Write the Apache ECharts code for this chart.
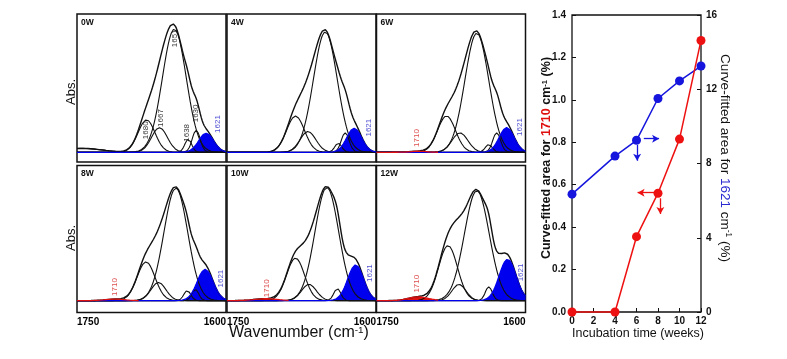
<!DOCTYPE html>
<html><head><meta charset="utf-8">
<script src="https://cdn.jsdelivr.net/npm/echarts@6/dist/echarts.min.js"></script>
<style>html,body{margin:0;padding:0;background:#fff}#c{width:787px;height:359px}</style>
</head><body><div id="c"></div>
<script>
// ---------------- DATA ----------------
const panelNames = ['0W', '4W', '6W', '8W', '10W', '12W'];
// Fitted amide-I component bands: [centre (cm-1), height (normalised), width sigma (cm-1)]
const blackBands = [
  [[1745, 0.03, 20], [1680, 0.25, 8.5], [1667, 0.19, 8], [1652, 0.95, 12], [1638, 0.10, 3.5], [1630, 0.17, 4]],
  [[1681, 0.28, 9], [1668.5, 0.16, 8], [1651, 0.93, 12], [1638, 0.07, 3.5], [1631, 0.15, 4]],
  [[1679.5, 0.28, 9], [1666, 0.15, 8], [1649, 0.92, 12], [1637, 0.06, 3.5], [1629, 0.15, 4]],
  [[1680.5, 0.31, 9], [1668, 0.145, 7.5], [1650.5, 0.90, 12], [1639, 0.08, 3.5], [1631, 0.09, 3.5]],
  [[1681, 0.34, 9], [1667.5, 0.13, 7.5], [1649.5, 0.905, 12], [1639, 0.096, 3.5]],
  [[1678, 0.44, 9.5], [1667, 0.13, 7], [1649, 0.88, 12.5], [1637, 0.11, 3.5]]
];
const band1621 = [[1620, 0.147, 7.5], [1622, 0.185, 7.5], [1619, 0.19, 7.5], [1621, 0.25, 8], [1620.5, 0.285, 8], [1618, 0.33, 8.5]];
const band1710 = [null, null, [1708, 0.008, 8], [1712, 0.012, 10], [1711, 0.015, 12], [1708, 0.03, 10]];
// peak labels: [text, wavenumber, height, colour key]
const peakLabels = [
  [['1680', 1680.5, 0.17, 'k'], ['1667', 1665.4, 0.264, 'k'], ['1651', 1651.2, 0.88, 'k'], ['1638', 1639.4, 0.15, 'k'], ['1630', 1630, 0.30, 'k'], ['1621', 1608.4, 0.218, 'b']],
  [['1621', 1607.7, 0.19, 'b']],
  [['1710', 1709, 0.11, 'r'], ['1621', 1605.6, 0.195, 'b']],
  [['1710', 1711.8, 0.109, 'r'], ['1621', 1605, 0.176, 'b']],
  [['1710', 1710.3, 0.099, 'r'], ['1621', 1606.6, 0.22, 'b']],
  [['1710', 1709, 0.135, 'r'], ['1621', 1604.6, 0.225, 'b']]
];
const wnMin = 1600, wnMax = 1750;

const weeks = [0, 4, 6, 8, 10, 12];
const area1710 = [0, 0, 0.355, 0.56, 0.815, 1.28];
const area1621 = [6.35, 8.4, 9.25, 11.5, 12.45, 13.25];
const leftTicks = [0, 0.2, 0.4, 0.6, 0.8, 1.0, 1.2, 1.4];
const rightTicks = [0, 4, 8, 12, 16];
const weekTicks = [0, 2, 4, 6, 8, 10, 12];

// ---------------- LAYOUT ----------------
const FONT = 'Arial, "Liberation Sans", sans-serif';
const BLUE = '#0000ee', RED = '#e01010';
const colL = [77, 227, 376.5], colW = 149;
const rowT = [14, 165.5], rowH = [148, 147];
const rowY = [[-0.075, 1.067], [-0.095, 1.08]];
const labelColor = {k: '#000', b: '#2222c8', r: '#d42020'};

const wn = [];
for (let w = wnMin; w <= wnMax; w += 1) wn.push(w);
const g = (b, w) => b[1] * Math.exp(-0.5 * Math.pow((w - b[0]) / b[2], 2));

const grids = [], xAxes = [], yAxes = [], series = [], graphics = [];
for (let p = 0; p < 6; p++) {
  const r = Math.floor(p / 3), c = p % 3;
  grids.push({left: colL[c], top: rowT[r], width: colW, height: rowH[r], show: true, borderColor: '#111', borderWidth: 1.5, backgroundColor: '#fff'});
  xAxes.push({gridIndex: p, type: 'value', min: wnMin, max: wnMax, interval: wnMax - wnMin, inverse: true,
    axisLine: {show: false}, axisTick: {show: false}, splitLine: {show: false},
    axisLabel: {show: r === 1, color: '#000', fontSize: 10, fontWeight: 'bold', fontFamily: FONT, margin: 5,
      alignMinLabel: 'right', alignMaxLabel: 'left', formatter: v => String(v)}});
  yAxes.push({gridIndex: p, type: 'value', min: rowY[r][0], max: rowY[r][1], show: false, splitLine: {show: false}});
  const all = blackBands[p].concat([band1621[p]]).concat(band1710[p] ? [band1710[p]] : []);
  const common = {type: 'line', xAxisIndex: p, yAxisIndex: p, symbol: 'none', silent: true, animation: false};
  blackBands[p].forEach(b => {
    series.push(Object.assign({}, common, {data: wn.map(w => [w, g(b, w)]), lineStyle: {color: '#111', width: 1.1}}));
  });
  series.push(Object.assign({}, common, {data: wn.map(w => [w, all.reduce((s, b) => s + g(b, w), 0)]), lineStyle: {color: '#111', width: 1.4}}));
  series.push(Object.assign({}, common, {data: wn.map(w => [w, g(band1621[p], w)]), lineStyle: {color: BLUE, width: 1.3}, areaStyle: {color: BLUE, opacity: 1}}));
  if (band1710[p]) {
    series.push(Object.assign({}, common, {data: wn.filter(w => w >= 1688).map(w => [w, g(band1710[p], w)]), lineStyle: {color: RED, width: 1.3}, areaStyle: {color: RED, opacity: 1}}));
  }
  series.push({type: 'scatter', xAxisIndex: p, yAxisIndex: p, symbolSize: 0, silent: true, animation: false,
    data: peakLabels[p].map(l => ({value: [l[1], l[2]], label: {formatter: l[0], color: labelColor[l[3]]}})),
    label: {show: true, position: 'inside', rotate: 90, fontSize: 8, fontFamily: FONT, fontWeight: 'normal'}});
  graphics.push({type: 'text', x: colL[c] + 4, y: rowT[r] + 8.5, style: {text: panelNames[p], font: 'bold 8.5px ' + FONT, fill: '#111', align: 'left', verticalAlign: 'middle', textAlign: 'left', textVerticalAlign: 'middle'}});
}

// right chart
const RG = 6;
grids.push({left: 572, top: 15, width: 129, height: 297, show: true, borderColor: '#111', borderWidth: 1.3, backgroundColor: 'transparent'});
xAxes.push({gridIndex: RG, type: 'value', min: weekTicks[0], max: weekTicks[weekTicks.length - 1], interval: 2,
  axisLine: {show: false}, splitLine: {show: false},
  axisTick: {show: true, inside: true, length: 4, lineStyle: {color: '#111'}},
  axisLabel: {color: '#111', fontSize: 10, fontWeight: 'bold', fontFamily: FONT, margin: 4, formatter: v => weekTicks.includes(v) ? String(v) : ''}});
yAxes.push({gridIndex: RG, type: 'value', min: leftTicks[0], max: leftTicks[leftTicks.length - 1], interval: 0.2, position: 'left',
  axisLine: {show: false}, splitLine: {show: false},
  axisTick: {show: true, inside: true, length: 4, lineStyle: {color: '#111'}},
  axisLabel: {color: '#111', fontSize: 10, fontWeight: 'bold', fontFamily: FONT, margin: 6, formatter: v => v.toFixed(1)}});
yAxes.push({gridIndex: RG, type: 'value', min: rightTicks[0], max: rightTicks[rightTicks.length - 1], interval: 4, position: 'right',
  axisLine: {show: false}, splitLine: {show: false},
  axisTick: {show: true, inside: true, length: 4, lineStyle: {color: '#111'}},
  axisLabel: {color: '#111', fontSize: 10, fontWeight: 'bold', fontFamily: FONT, margin: 5}});
const arrowML = (color, lines) => ({silent: true, symbol: ['none', 'arrow'], symbolSize: [6, 7], animation: false,
  lineStyle: {color: color, width: 1.3, type: 'solid'}, label: {show: false},
  data: lines.map(l => [{coord: [l[0], l[1]]}, {coord: [l[2], l[3]]}])});
series.push({type: 'line', xAxisIndex: RG, yAxisIndex: 7, data: weeks.map((w, i) => [w, area1621[i]]), clip: false, animation: false,
  symbol: 'circle', symbolSize: 9, itemStyle: {color: '#1515dd'}, lineStyle: {color: '#1515dd', width: 1.5},
  markLine: arrowML('#1515dd', [[6.68, 9.34, 8.1, 9.34], [6.06, 9.0, 6.06, 8.15]])});
series.push({type: 'line', xAxisIndex: RG, yAxisIndex: 6, data: weeks.map((w, i) => [w, area1710[i]]), clip: false, animation: false,
  symbol: 'circle', symbolSize: 9, itemStyle: {color: '#ee1111'}, lineStyle: {color: '#ee1111', width: 1.5},
  markLine: arrowML('#ee1111', [[7.78, 0.5625, 6.1, 0.5625], [8.22, 0.536, 8.22, 0.462]])});

// texts
const richBase = (fs, fw) => ({
  a: {fontSize: fs, fontWeight: fw, fontFamily: FONT, fill: '#111', color: '#111'},
  r: {fontSize: fs, fontWeight: fw, fontFamily: FONT, fill: RED, color: RED},
  b: {fontSize: fs, fontWeight: fw, fontFamily: FONT, fill: '#2a2ad0', color: '#2a2ad0'},
  s: {fontSize: fs * 0.62, fontWeight: fw, fontFamily: FONT, fill: '#111', color: '#111', verticalAlign: 'top', padding: [0, 0, fs * 0.4, 0]}
});
graphics.push({type: 'text', x: 547, y: 158, rotation: Math.PI / 2,
  style: {text: '{a|Curve-fitted area for }{r|1710}{a| cm}{s|-1}{a| (%)}', rich: richBase(12.5, 'bold'), align: 'center', verticalAlign: 'middle', textAlign: 'center', textVerticalAlign: 'middle'}});
graphics.push({type: 'text', x: 725, y: 158, rotation: -Math.PI / 2,
  style: {text: '{a|Curve-fitted area for }{b|1621}{a| cm}{s|-1}{a| (%)}', rich: richBase(13.5, 'normal'), align: 'center', verticalAlign: 'middle', textAlign: 'center', textVerticalAlign: 'middle'}});
graphics.push({type: 'text', x: 638, y: 333.5,
  style: {text: 'Incubation time (weeks)', font: '12.5px ' + FONT, fill: '#111', align: 'center', verticalAlign: 'middle', textAlign: 'center', textVerticalAlign: 'middle'}});
graphics.push({type: 'text', x: 299, y: 333,
  style: {text: '{a|Wavenumber (cm}{s|-1}{a|)}', rich: richBase(16, 'normal'), align: 'center', verticalAlign: 'middle', textAlign: 'center', textVerticalAlign: 'middle'}});
[92, 238].forEach(yy => graphics.push({type: 'text', x: 71, y: yy, rotation: Math.PI / 2,
  style: {text: 'Abs.', font: '13px ' + FONT, fill: '#111', align: 'center', verticalAlign: 'middle', textAlign: 'center', textVerticalAlign: 'middle'}}));

const chart = echarts.init(document.getElementById('c'), null, {renderer: 'canvas'});
chart.setOption({animation: false, backgroundColor: '#fff', grid: grids, xAxis: xAxes, yAxis: yAxes, series: series, graphic: graphics});
</script></body></html>
